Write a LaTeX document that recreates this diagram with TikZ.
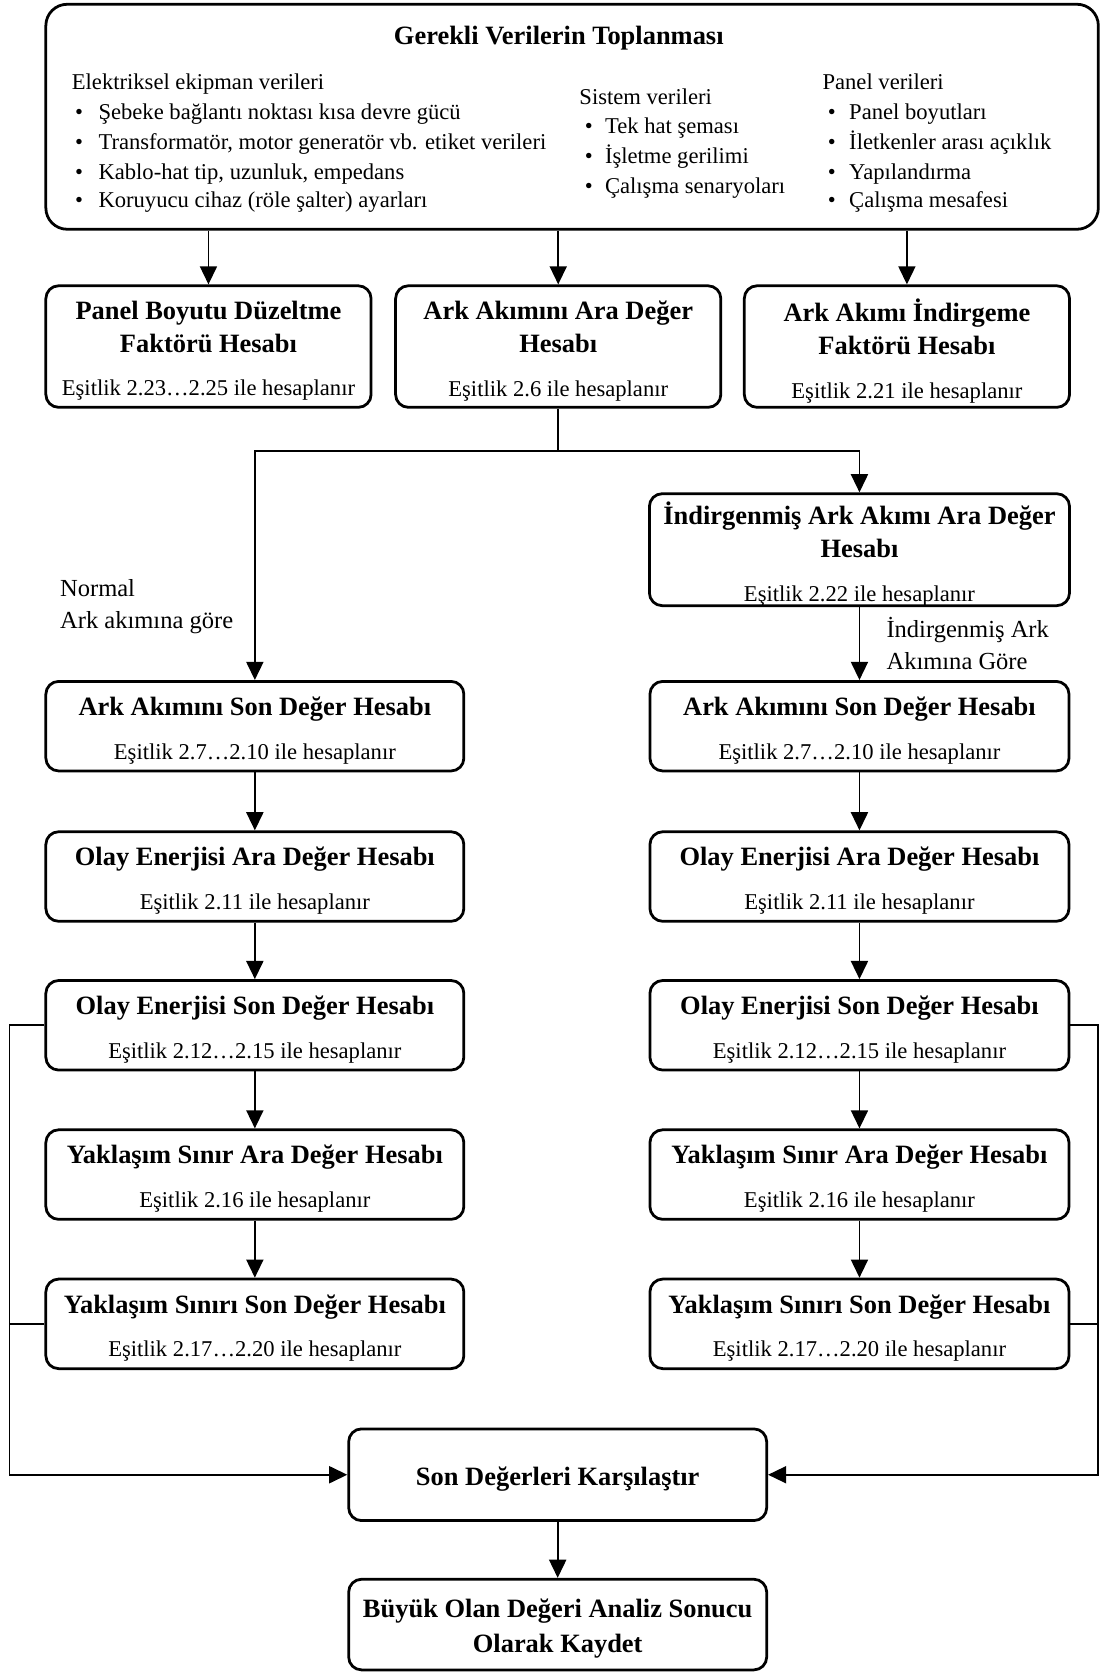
\documentclass[tikz,border=0pt]{standalone}
\usepackage{fontspec}
\setmainfont{Liberation Serif}
\usetikzlibrary{arrows.meta}
\newcommand\regf{\fontsize{10.6}{15.5}\selectfont}
\newcommand\titf{\fontsize{12.4}{15.5}\selectfont\bfseries}
\newcommand\lblf{\fontsize{11.5}{15}\selectfont}
% \flowbox{name}{cx}{cy}{width}{height}{content}
\newcommand\flowbox[6]{%
  \node[boxs, minimum width=#4, minimum height=#5] (#1) at (#2,#3) {};
  \node[boxt] (#1t) at (#2,#3+4) {#6};}
\begin{document}
\begin{tikzpicture}[x=0.5pt,y=-0.5pt,
  boxs/.style={draw, line width=1.3pt, rounded corners=6pt, inner sep=0pt},
  boxt/.style={inner sep=0pt, align=center, font=\regf},
  ln/.style={line width=0.8pt},
  arr/.style={ln, -{Triangle[width=8pt,length=8.5pt]}},
  txt/.style={anchor=base west, inner sep=0pt, font=\regf},
  lbl/.style={anchor=base west, inner sep=0pt, font=\lblf}
]
\useasboundingbox (0,0) rectangle (1036,1568);

% top box
\node[boxs, rounded corners=10pt, minimum width=493.5pt, minimum height=105.5pt] (top) at (536.5,109.5) {};
\node[inner sep=0pt, font=\titf] (ttl) at (524,36) {Gerekli Verilerin Toplanması};
% left column
\node[txt] (e0) at (67,84) {Elektriksel ekipman verileri};
\node[txt] (eb1) at (70,112) {•}; \node[txt] (e1) at (92,112) {Şebeke bağlantı noktası kısa devre gücü};
\node[txt] (eb2) at (70,140) {•}; \node[txt] (e2) at (92,140) {Transformatör, motor generatör vb. etiket verileri};
\node[txt] (eb3) at (70,168) {•}; \node[txt] (e3) at (92,168) {Kablo-hat tip, uzunluk, empedans};
\node[txt] (eb4) at (70,195) {•}; \node[txt] (e4) at (92,195) {Koruyucu cihaz (röle şalter) ayarları};
% middle column
\node[txt] (s0) at (543,98) {Sistem verileri};
\node[txt] (sb1) at (548,125) {•}; \node[txt] (s1) at (567,125) {Tek hat şeması};
\node[txt] (sb2) at (548,153) {•}; \node[txt] (s2) at (567,153) {İşletme gerilimi};
\node[txt] (sb3) at (548,181) {•}; \node[txt] (s3) at (567,181) {Çalışma senaryoları};
% right column
\node[txt] (p0) at (771,84) {Panel verileri};
\node[txt] (pb1) at (776,112) {•}; \node[txt] (p1) at (796,112) {Panel boyutları};
\node[txt] (pb2) at (776,140) {•}; \node[txt] (p2) at (796,140) {İletkenler arası açıklık};
\node[txt] (pb3) at (776,168) {•}; \node[txt] (p3) at (796,168) {Yapılandırma};
\node[txt] (pb4) at (776,195) {•}; \node[txt] (p4) at (796,195) {Çalışma mesafesi};

% row 2
\flowbox{A}{195.5}{325}{152.5pt}{57pt}{{\titf Panel Boyutu Düzeltme}\\{\titf Faktörü Hesabı}\\[5pt]Eşitlik 2.23…2.25 ile hesaplanır}
\flowbox{B}{523.5}{325}{152.5pt}{57pt}{{\titf Ark Akımını Ara Değer}\\{\titf Hesabı}\\[5pt]Eşitlik 2.6 ile hesaplanır}
\flowbox{C}{850.5}{325}{152.5pt}{57pt}{{\titf Ark Akımı İndirgeme}\\{\titf Faktörü Hesabı}\\[5pt]Eşitlik 2.21 ile hesaplanır}

% reduced
\flowbox{Ind}{806}{515.5}{197pt}{52.5pt}{{\titf İndirgenmiş Ark Akımı Ara Değer}\\{\titf Hesabı}\\[5pt]Eşitlik 2.22 ile hesaplanır}

% left column
\flowbox{L1}{239}{681}{196pt}{42pt}{{\titf Ark Akımını Son Değer Hesabı}\\[5pt]Eşitlik 2.7…2.10 ile hesaplanır}
\flowbox{L2}{239}{822}{196pt}{42pt}{{\titf Olay Enerjisi Ara Değer Hesabı}\\[5pt]Eşitlik 2.11 ile hesaplanır}
\flowbox{L3}{239}{961.5}{196pt}{42pt}{{\titf Olay Enerjisi Son Değer Hesabı}\\[5pt]Eşitlik 2.12…2.15 ile hesaplanır}
\flowbox{L4}{239}{1101.5}{196pt}{42pt}{{\titf Yaklaşım Sınır Ara Değer Hesabı}\\[5pt]Eşitlik 2.16 ile hesaplanır}
\flowbox{L5}{239}{1241.5}{196pt}{42pt}{{\titf Yaklaşım Sınırı Son Değer Hesabı}\\[5pt]Eşitlik 2.17…2.20 ile hesaplanır}
% right column
\flowbox{R1}{806}{681}{196.5pt}{42pt}{{\titf Ark Akımını Son Değer Hesabı}\\[5pt]Eşitlik 2.7…2.10 ile hesaplanır}
\flowbox{R2}{806}{822}{196.5pt}{42pt}{{\titf Olay Enerjisi Ara Değer Hesabı}\\[5pt]Eşitlik 2.11 ile hesaplanır}
\flowbox{R3}{806}{961.5}{196.5pt}{42pt}{{\titf Olay Enerjisi Son Değer Hesabı}\\[5pt]Eşitlik 2.12…2.15 ile hesaplanır}
\flowbox{R4}{806}{1101.5}{196.5pt}{42pt}{{\titf Yaklaşım Sınır Ara Değer Hesabı}\\[5pt]Eşitlik 2.16 ile hesaplanır}
\flowbox{R5}{806}{1241.5}{196.5pt}{42pt}{{\titf Yaklaşım Sınırı Son Değer Hesabı}\\[5pt]Eşitlik 2.17…2.20 ile hesaplanır}

% bottom
\flowbox{Son}{523}{1383}{196pt}{43pt}{\titf Son Değerleri Karşılaştır}
\flowbox{Buy}{523}{1523.5}{196pt}{42.5pt}{{\titf Büyük Olan Değeri Analiz Sonucu}\\[1pt]{\titf Olarak Kaydet}}

% labels
\node[lbl] (n1) at (56,559) {Normal};
\node[lbl] (n2) at (56,589) {Ark akımına göre};
\node[lbl] (i1) at (831,598) {İndirgenmiş Ark};
\node[lbl] (i2) at (831,628) {Akımına Göre};

% connectors
\draw[arr] (A.north |- top.south) -- (A.north);
\draw[arr] (B.north |- top.south) -- (B.north);
\draw[arr] (C.north |- top.south) -- (C.north);
\coordinate (j) at (523.5,423);
\draw[ln] (B.south) -- (j);
\draw[arr] (j) -| (L1.north);
\draw[arr] (j) -| (Ind.north);
\draw[arr] (Ind.south) -- (R1.north);
\draw[arr] (L1) -- (L2); \draw[arr] (L2) -- (L3); \draw[arr] (L3) -- (L4); \draw[arr] (L4) -- (L5);
\draw[arr] (R1) -- (R2); \draw[arr] (R2) -- (R3); \draw[arr] (R3) -- (R4); \draw[arr] (R4) -- (R5);
\coordinate (lb) at (9,1383);
\coordinate (rb) at (1030,1383);
\draw[arr] (L3.west) -| (lb) -- (Son.west);
\draw[ln] (L5.west) -- (L5.west -| lb);
\draw[arr] (R3.east) -| (rb) -- (Son.east);
\draw[ln] (R5.east) -- (R5.east -| rb);
\draw[arr] (Son) -- (Buy);
\end{tikzpicture}
\end{document}
